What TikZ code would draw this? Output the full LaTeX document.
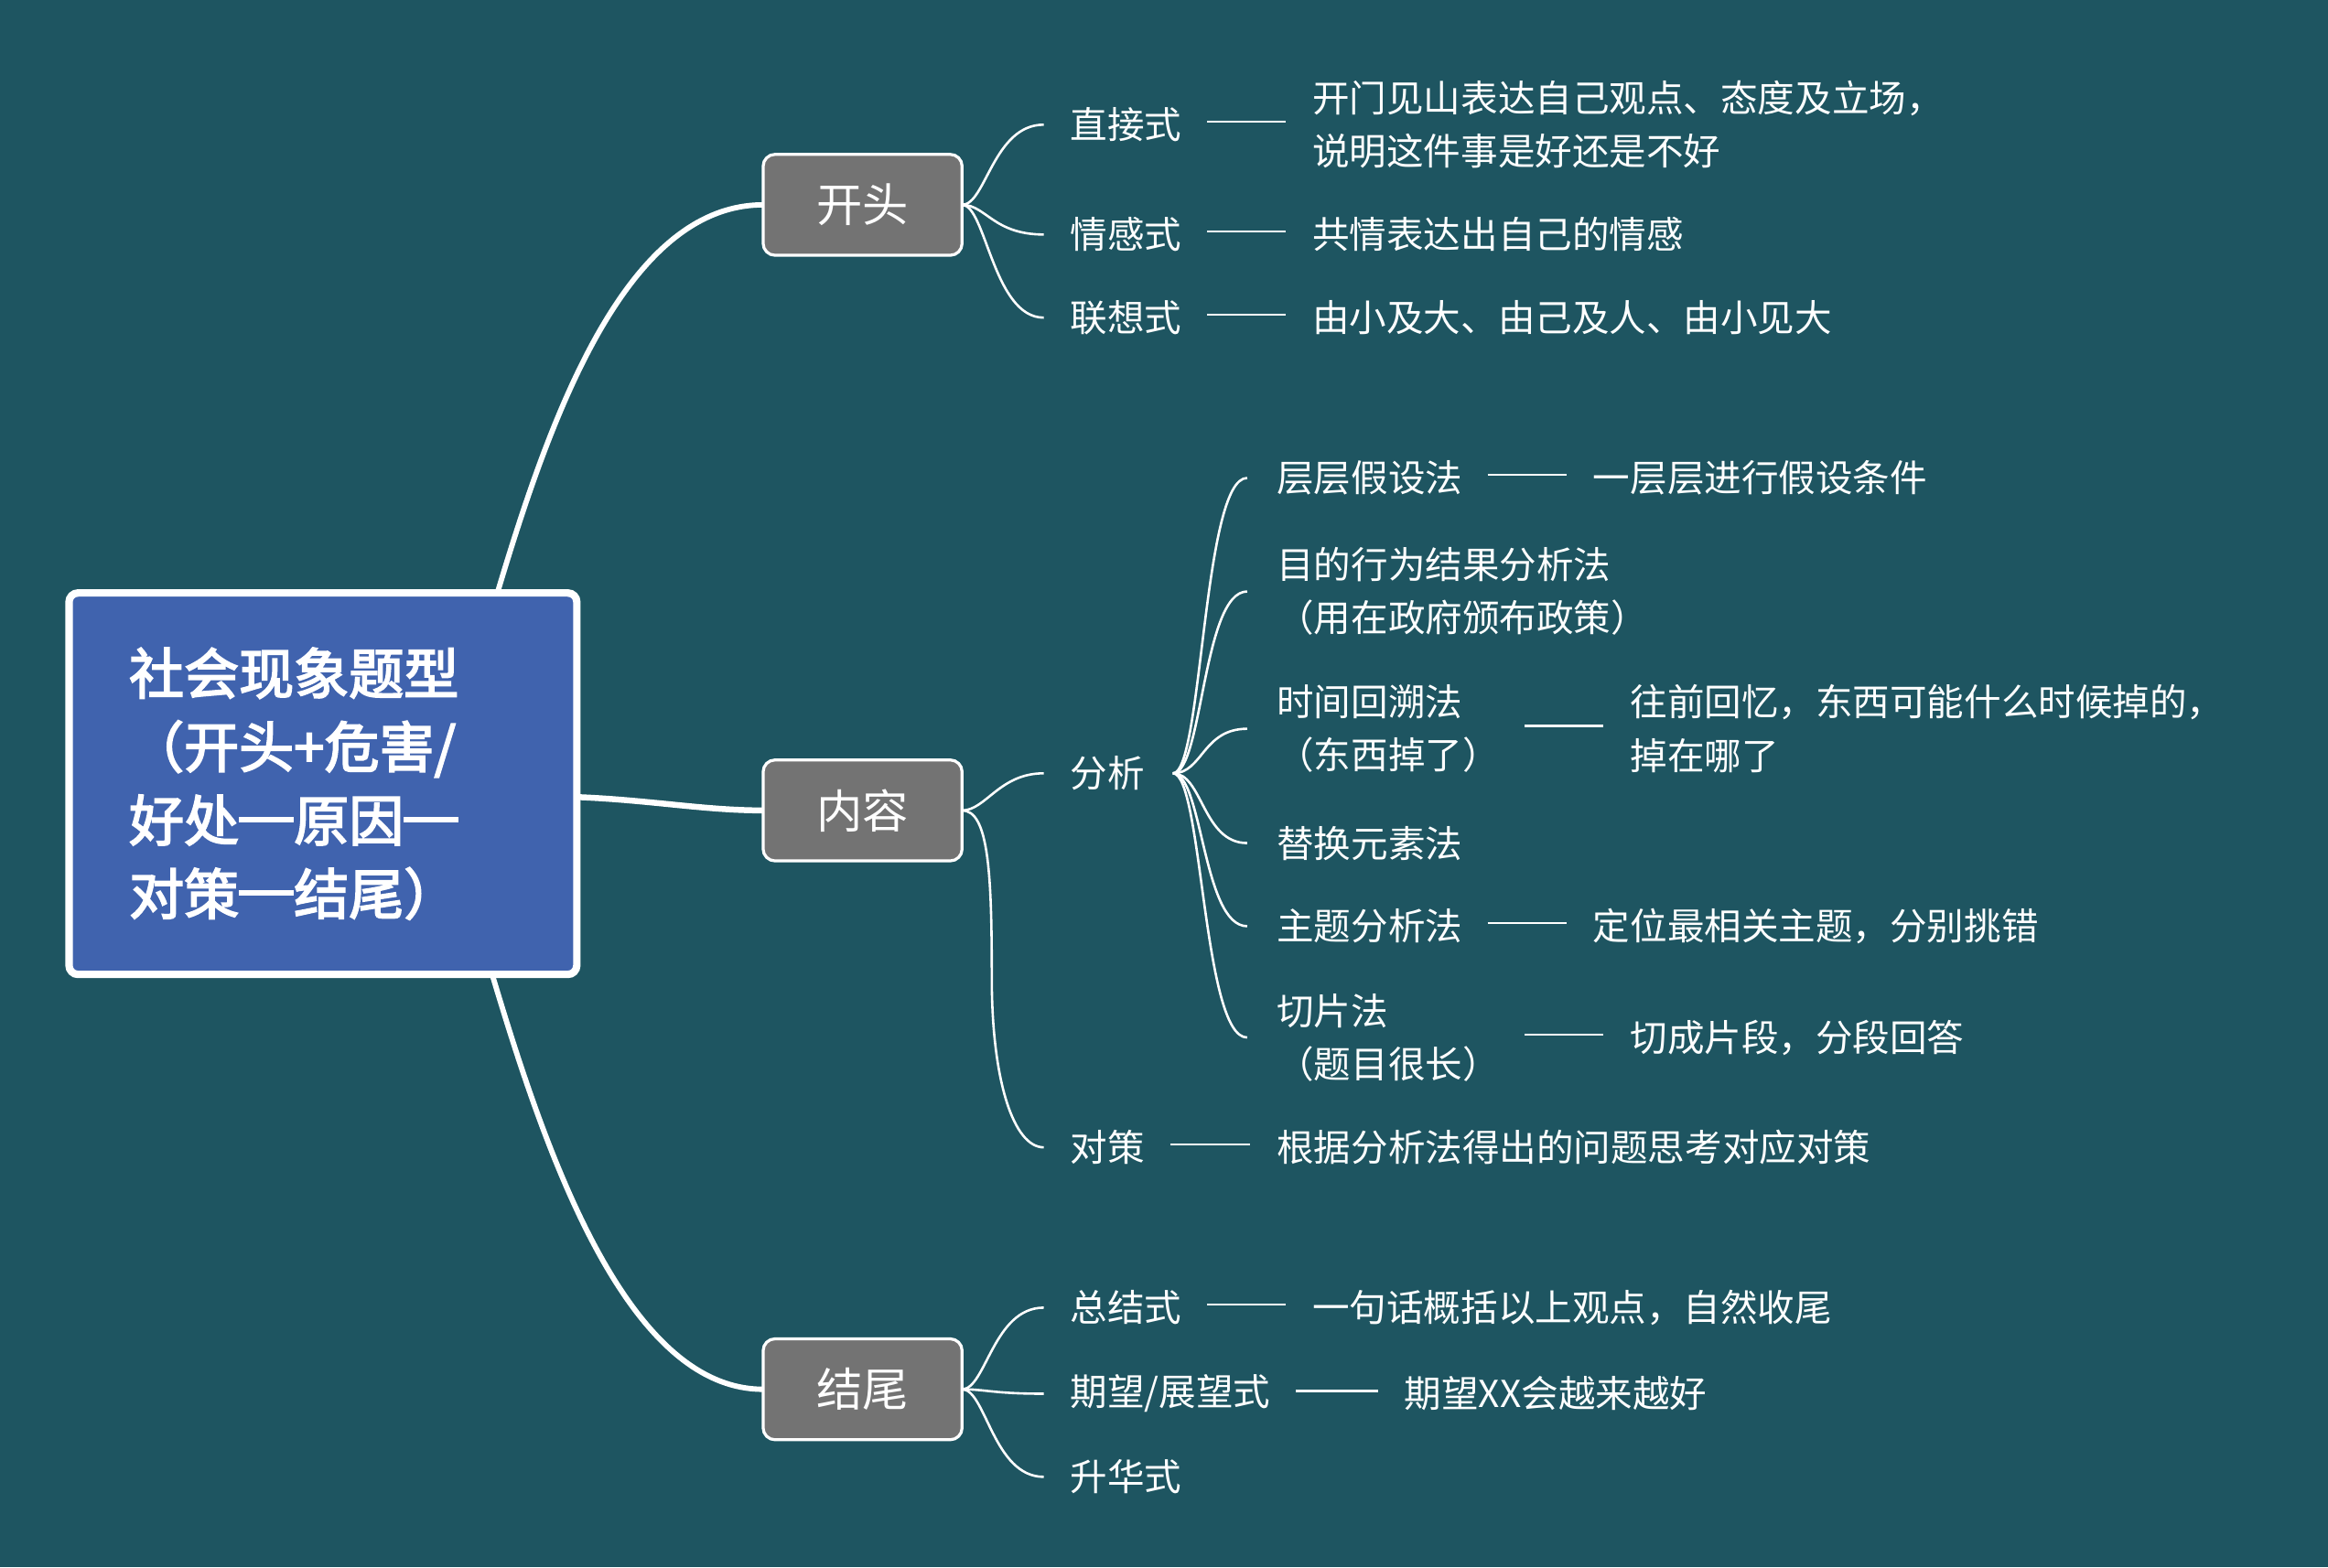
\documentclass[tikz,border=0pt]{standalone}
\usepackage{fontspec}
\newfontfamily\cjk{Noto Sans CJK SC}
\newfontfamily\cjkfb{Noto Sans CJK SC}[FakeBold=3]
\newcommand\fwdash{\rule[0.34em]{1em}{0.1em}}
\definecolor{bgc}{HTML}{1E5561}
\definecolor{rootc}{HTML}{4063AE}
\definecolor{boxc}{HTML}{737373}
\pgfdeclarelayer{bg}
\pgfsetlayers{bg,main}
\begin{document}
\begin{tikzpicture}[x=0.5pt,y=-0.5pt,
  every node/.style={inner sep=0pt, outer sep=0pt, text=white},
  lbl/.style={anchor=west, font=\cjk\fontsize{12.5}{18}\selectfont, align=left},
  rootbox/.style={draw=white, line width=2.5pt, fill=rootc, rounded corners=3pt,
    minimum width=171pt, minimum height=128.5pt, inner xsep=20.25pt,
    text width=130.5pt, align=left, font=\cjkfb\fontsize{18.5}{24.75}\selectfont},
  branchbox/.style={draw=white, line width=1pt, fill=boxc, rounded corners=4pt,
    minimum width=67pt, minimum height=34pt, font=\cjk\fontsize{15.5}{18}\selectfont},
  mainlink/.style={draw=white, line width=1.8pt},
  link/.style={draw=white, line width=0.8pt},
  dashline/.style={draw=white, line width=0.8pt},
]
\node[rootbox] (root) at (217.5,528) {社会现象题型\\（开头+危害/\\好处\fwdash 原因\fwdash\\对策\fwdash 结尾）};
\node[branchbox] (kaitou) at (581,138) {开头};
\node[branchbox] (neirong) at (581,546) {内容};
\node[branchbox] (jiewei) at (581,936) {结尾};

\node[lbl] (zhijie) at (721,84) {直接式};
\node[lbl] (zhijied) at (884,84) {开门见山表达自己观点、态度及立场，\\说明这件事是好还是不好};
\node[lbl] (qinggan) at (721,158) {情感式};
\node[lbl] (qinggand) at (884,158) {共情表达出自己的情感};
\node[lbl] (lianxiang) at (721,214) {联想式};
\node[lbl] (lianxiangd) at (884,214) {由小及大、由己及人、由小见大};

\node[lbl] (fenxi) at (721,521) {分析};
\node[lbl] (cengceng) at (860,322) {层层假设法};
\node[lbl] (cengcengd) at (1073,322) {一层层进行假设条件};
\node[lbl] (mudi) at (860,398.5) {目的行为结果分析法\\（用在政府颁布政策）};
\node[lbl] (shijian) at (860,491) {时间回溯法\\（东西掉了）};
\node[lbl] (shijiand) at (1098,491) {往前回忆，东西可能什么时候掉的，\\掉在哪了};
\node[lbl] (tihuan) at (860,568) {替换元素法};
\node[lbl] (zhuti) at (860,624) {主题分析法};
\node[lbl] (zhutid) at (1073,624) {定位最相关主题，分别挑错};
\node[lbl] (qiepian) at (860,699) {切片法\\（题目很长）};
\node[lbl] (qiepiand) at (1098,699) {切成片段，分段回答};
\node[lbl] (duice) at (721,773) {对策};
\node[lbl] (duiced) at (860,773) {根据分析法得出的问题思考对应对策};

\node[lbl] (zongjie) at (721,881) {总结式};
\node[lbl] (zongjied) at (884,881) {一句话概括以上观点，自然收尾};
\node[lbl] (qiwang) at (721,939) {期望/展望式};
\node[lbl] (qiwangd) at (946,939) {期望XX会越来越好};
\node[lbl] (shenghua) at (721,995) {升华式};

\coordinate (fork) at ([xshift=9.5pt]fenxi.east);

\begin{pgfonlayer}{bg}
\fill[bgc] (0,0) rectangle (1568,1056);
% root links
\draw[mainlink] ([xshift=-26.75pt]root.north east) .. controls +(35,-117) and +(-93,0) .. (kaitou.west);
\draw[mainlink, line width=2pt] ([yshift=-4.5pt]root.east) .. controls +(50,2) and +(-40,0) .. (neirong.west);
\draw[mainlink] ([xshift=-28.5pt]root.south east) .. controls +(35,117) and +(-93,0) .. (jiewei.west);
% kaitou
\draw[link] (kaitou.east) .. controls +(16,0) and +(-34,0) .. ([xshift=-9pt]zhijie.west);
\draw[link] (kaitou.east) .. controls +(16,0) and +(-34,0) .. ([xshift=-9pt]qinggan.west);
\draw[link] (kaitou.east) .. controls +(16,0) and +(-34,0) .. ([xshift=-9pt]lianxiang.west);
% neirong
\draw[link] (neirong.east) .. controls +(16,0) and +(-30,0) .. ([xshift=-9pt]fenxi.west);
\draw[link] (neirong.east) .. controls +(18,0) and +(0,-70) .. +(20,113)
  .. controls +(0,70) and +(-20,0) .. ([xshift=-9pt]duice.west);
% fenxi fork
\draw[link] (fork) .. controls +(20,0) and +(-30,0) .. ([xshift=-10pt]cengceng.west);
\draw[link] (fork) .. controls +(20,0) and +(-30,0) .. ([xshift=-10pt]mudi.west);
\draw[link] (fork) .. controls +(20,0) and +(-30,0) .. ([xshift=-10pt]shijian.west);
\draw[link] (fork) .. controls +(20,0) and +(-30,0) .. ([xshift=-10pt]tihuan.west);
\draw[link] (fork) .. controls +(20,0) and +(-30,0) .. ([xshift=-10pt]zhuti.west);
\draw[link] (fork) .. controls +(20,0) and +(-30,0) .. ([xshift=-10pt]qiepian.west);
% jiewei
\draw[link] (jiewei.east) .. controls +(16,0) and +(-34,0) .. ([xshift=-9pt]zongjie.west);
\draw[link] (jiewei.east) .. controls +(16,0) and +(-34,0) .. ([xshift=-9pt]qiwang.west);
\draw[link] (jiewei.east) .. controls +(16,0) and +(-34,0) .. ([xshift=-9pt]shenghua.west);
\end{pgfonlayer}

% dashes
\draw[dashline] ([xshift=8.5pt,yshift=1pt]zhijie.east) -- ([xshift=-9pt,yshift=1pt]zhijied.west);
\draw[dashline] ([xshift=8.5pt,yshift=1pt]qinggan.east) -- ([xshift=-9pt,yshift=1pt]qinggand.west);
\draw[dashline] ([xshift=8.5pt,yshift=1pt]lianxiang.east) -- ([xshift=-9pt,yshift=1pt]lianxiangd.west);
\draw[dashline] ([xshift=8.5pt,yshift=1pt]cengceng.east) -- ([xshift=-9pt,yshift=1pt]cengcengd.west);
\draw[dashline] ([xshift=8.5pt,yshift=1pt]shijian.east) -- ([xshift=-9pt,yshift=1pt]shijiand.west);
\draw[dashline] ([xshift=8.5pt,yshift=1pt]zhuti.east) -- ([xshift=-9pt,yshift=1pt]zhutid.west);
\draw[dashline] ([xshift=8.5pt,yshift=1pt]qiepian.east) -- ([xshift=-9pt,yshift=1pt]qiepiand.west);
\draw[dashline] ([xshift=8.5pt,yshift=1pt]duice.east) -- ([xshift=-9pt,yshift=1pt]duiced.west);
\draw[dashline] ([xshift=8.5pt,yshift=1pt]zongjie.east) -- ([xshift=-9pt,yshift=1pt]zongjied.west);
\draw[dashline] ([xshift=8.5pt,yshift=1pt]qiwang.east) -- ([xshift=-9pt,yshift=1pt]qiwangd.west);
\end{tikzpicture}
\end{document}
